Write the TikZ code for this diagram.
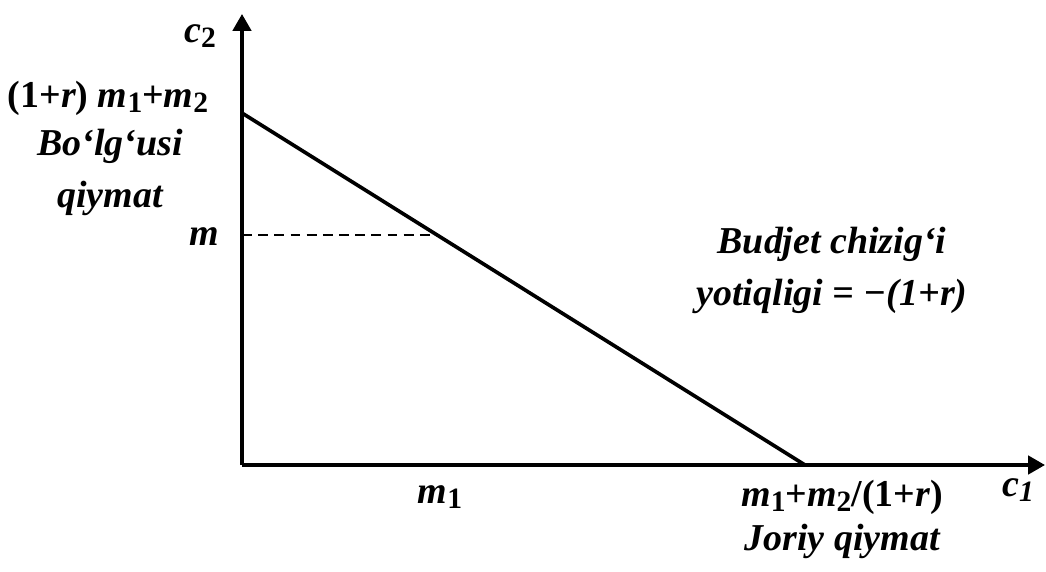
\documentclass[tikz,border=0pt]{standalone}
\usepackage{fontspec}
\setmainfont{Liberation Serif}
\usetikzlibrary{positioning,arrows.meta}

\newcommand{\lowidx}[1]{\raisebox{-4pt}{\fontsize{21}{21}\selectfont\upshape #1}}

\begin{document}
\begin{tikzpicture}[x=0.025cm, y=-0.025cm,
    axisLine/.style={line width=2.6pt, -{Triangle[length=12pt, width=13pt]}},
    budgetLine/.style={line width=2.6pt},
    guideLine/.style={line width=1.9pt, dash pattern=on 7pt off 4.5pt},
    lblText/.style={font=\fontsize{27}{37}\selectfont\bfseries\itshape, inner sep=0pt, align=center}
]
    \useasboundingbox (0,0) rectangle (1046,572);

    \coordinate (O) at (242,465);
    \coordinate (yTop) at (242,14);
    \coordinate (xEnd) at (1045,465);
    \coordinate (A) at (242,113);
    \coordinate (B) at (805,465);
    \coordinate (mY) at (242,235);
    \coordinate (mX) at (437,235);

    \draw[axisLine] (O) -- (yTop);
    \draw[axisLine] (O) -- (xEnd);
    \draw[budgetLine] (A) -- (B);
    \draw[guideLine] (mY) -- (mX);

    % vertikal o'q yozuvlari
    \node[lblText] (cTwo) at (200,36) {c\lowidx{2}};
    \node[lblText] (intY) at (108,98) {\upshape(1+\itshape r\upshape) \itshape m\lowidx{1}\upshape+\itshape m\lowidx{2}};
    \node[lblText] (futVal) at (110,172) {Bo‘lg‘usi\\qiymat};
    \node[lblText] (mLbl) at (204,237) {m};

    % byudjet chizig'i izohi
    \node[lblText] (slope) at (832,270) {Budjet chizig‘i\\yotiqligi = −(1+r)};

    % gorizontal o'q yozuvlari
    \node[lblText] (mOne) at (440,497) {m\lowidx{1}};
    \node[lblText] (intX) at (842,497) {m\lowidx{1}\upshape+\itshape m\lowidx{2}\upshape/(1+\itshape r\upshape)};
    \node[lblText] (curVal) at (842,541) {Joriy qiymat};
    \node[lblText] (cOne) at (1018,490) {c\raisebox{-4pt}{\fontsize{21}{21}\selectfont 1}};
\end{tikzpicture}
\end{document}
